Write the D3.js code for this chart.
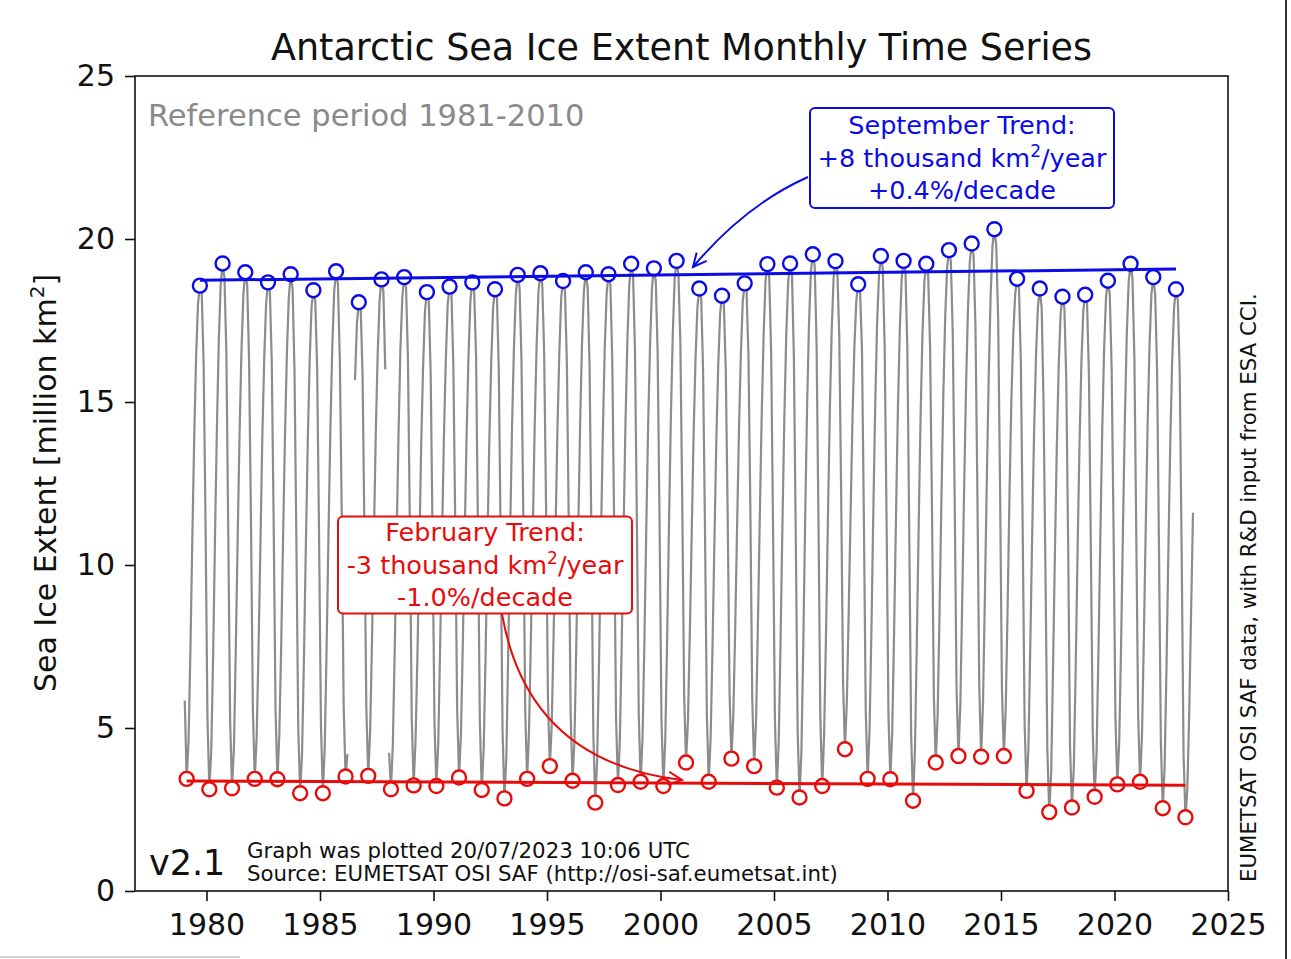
<!DOCTYPE html>
<html>
<head>
<meta charset="utf-8">
<script src="https://cdn.jsdelivr.net/npm/d3@7"></script>
<style>
  html, body { margin: 0; padding: 0; background: #fff; }
  svg { display: block; }
  text { font-family: "DejaVu Sans", sans-serif; }
</style>
</head>
<body>
<svg id="chart" width="1291" height="959"></svg>
<script>
// Monthly Antarctic sea ice extent (million km²), one row per year, Jan..Dec.
// null marks months without data.
const years = d3.range(1979, 2024);
const monthlyExtent = [
  [5.84, 3.44, 4.6, 7.4, 10.8, 13.9, 16.4, 18.0, 18.57, 18.3, 16.1, 11.2], // 1979
  [5.3, 3.12, 4.3, 7.2, 10.9, 14.2, 16.9, 18.6, 19.25, 18.8, 16.5, 11.0],  // 1980
  [5.2, 3.15, 4.4, 7.5, 10.9, 14.1, 16.6, 18.3, 18.98, 18.6, 16.3, 11.4],  // 1981
  [5.6, 3.44, 4.7, 7.4, 10.6, 13.9, 16.3, 18.0, 18.67, 18.4, 16.2, 11.3],  // 1982
  [5.5, 3.43, 4.8, 7.6, 10.9, 14.0, 16.5, 18.2, 18.92, 18.5, 16.0, 10.8],  // 1983
  [5.0, 3.00, 4.2, 7.1, 10.5, 13.7, 16.2, 17.9, 18.43, 18.1, 16.0, 10.9],  // 1984
  [5.1, 3.00, 4.4, 7.5, 11.0, 14.2, 16.7, 18.4, 19.01, 18.6, 16.2, 11.5],  // 1985
  [5.7, 3.51, 4.2, null, null, null, 15.67, 17.4, 18.06, 17.9, 15.8, 11.0], // 1986
  [5.6, 3.53, 4.9, 7.7, 10.9, 14.1, 16.5, 18.1, 18.76, 18.4, 16.0, null],  // 1987
  [4.24, 3.12, 4.5, 7.4, 10.8, 14.0, 16.6, 18.2, 18.83, 18.5, 16.3, 11.2], // 1988
  [5.3, 3.24, 4.6, 7.2, 10.5, 13.7, 16.1, 17.8, 18.37, 18.1, 15.9, 10.9],  // 1989
  [5.2, 3.22, 4.5, 7.5, 10.8, 13.9, 16.3, 18.0, 18.54, 18.3, 16.1, 11.2],  // 1990
  [5.6, 3.48, 4.8, 7.6, 10.9, 14.0, 16.4, 18.1, 18.67, 18.4, 16.4, 11.1],  // 1991
  [5.2, 3.10, 4.3, 7.1, 10.6, 13.8, 16.2, 17.9, 18.46, 18.3, 16.0, 10.8],  // 1992
  [4.9, 2.84, 4.1, 7.3, 10.9, 14.2, 16.6, 18.3, 18.90, 18.5, 16.3, 11.4],  // 1993
  [5.5, 3.44, 4.9, 7.8, 11.1, 14.3, 16.7, 18.4, 18.95, 18.6, 16.5, 11.8],  // 1994
  [5.9, 3.83, 5.1, 7.9, 11.0, 14.1, 16.5, 18.2, 18.71, 18.4, 16.2, 11.3],  // 1995
  [5.4, 3.38, 4.6, 7.6, 11.0, 14.3, 16.8, 18.4, 18.98, 18.5, 16.1, 10.8],  // 1996
  [4.8, 2.71, 4.0, 7.0, 10.7, 14.0, 16.6, 18.3, 18.92, 18.6, 16.3, 11.2],  // 1997
  [5.3, 3.25, 4.6, 7.6, 11.1, 14.4, 16.9, 18.6, 19.24, 18.9, 16.6, 11.4],  // 1998
  [5.4, 3.35, 4.7, 7.7, 11.2, 14.4, 16.8, 18.5, 19.10, 18.7, 16.5, 11.3],  // 1999
  [5.3, 3.22, 4.6, 7.7, 11.3, 14.6, 17.1, 18.8, 19.33, 18.9, 16.8, 11.9],  // 2000
  [6.0, 3.94, 5.2, 7.9, 11.0, 14.0, 16.3, 17.9, 18.48, 18.2, 16.0, 11.2],  // 2001
  [5.4, 3.35, 4.7, 7.5, 10.7, 13.8, 16.1, 17.7, 18.26, 18.0, 16.0, 11.6],  // 2002
  [6.1, 4.06, 5.4, 8.1, 11.2, 14.2, 16.5, 18.1, 18.64, 18.4, 16.4, 11.7],  // 2003
  [5.9, 3.83, 5.2, 8.2, 11.5, 14.6, 17.0, 18.7, 19.23, 18.8, 16.5, 11.1],  // 2004
  [5.2, 3.17, 4.6, 7.8, 11.4, 14.6, 17.1, 18.7, 19.25, 18.9, 16.4, 10.9],  // 2005
  [4.9, 2.87, 4.3, 7.6, 11.5, 14.9, 17.4, 19.0, 19.53, 19.2, 16.8, 11.4],  // 2006
  [5.3, 3.22, 4.8, 7.9, 11.4, 14.7, 17.2, 18.8, 19.32, 19.0, 17.0, 12.2],  // 2007
  [6.4, 4.35, 5.8, 8.6, 11.6, 14.5, 16.7, 18.1, 18.61, 18.4, 16.6, 11.5],  // 2008
  [5.5, 3.44, 4.9, 8.0, 11.6, 14.9, 17.4, 18.9, 19.48, 19.1, 16.7, 11.4],  // 2009
  [5.4, 3.43, 4.9, 8.0, 11.5, 14.8, 17.2, 18.8, 19.33, 19.0, 16.6, 11.0],  // 2010
  [4.8, 2.77, 4.3, 7.6, 11.3, 14.6, 17.1, 18.7, 19.24, 18.9, 16.7, 11.8],  // 2011
  [6.0, 3.94, 5.4, 8.5, 12.0, 15.2, 17.6, 19.1, 19.66, 19.3, 17.1, 12.1],  // 2012
  [6.2, 4.14, 5.7, 8.9, 12.3, 15.4, 17.8, 19.3, 19.86, 19.5, 17.3, 12.3],  // 2013
  [6.3, 4.12, 5.8, 9.1, 12.6, 15.8, 18.2, 19.8, 20.30, 19.8, 17.5, 12.4],  // 2014
  [6.2, 4.14, 5.6, 8.7, 12.2, 15.1, 17.1, 18.3, 18.78, 18.5, 16.2, 10.9],  // 2015
  [5.1, 3.07, 4.4, 7.6, 11.0, 14.1, 16.4, 17.9, 18.48, 17.9, 14.9, 9.8],   // 2016
  [4.3, 2.42, 3.6, 6.8, 10.4, 13.6, 16.1, 17.7, 18.23, 17.9, 15.7, 10.6],  // 2017
  [4.4, 2.56, 3.8, 6.9, 10.5, 13.7, 16.2, 17.8, 18.29, 18.0, 15.8, 10.5],  // 2018
  [4.9, 2.89, 4.2, 7.3, 10.8, 14.1, 16.6, 18.2, 18.72, 18.3, 16.0, 11.1],  // 2019
  [5.3, 3.27, 4.6, 7.6, 11.2, 14.5, 17.1, 18.7, 19.24, 18.8, 16.4, 11.0],  // 2020
  [5.4, 3.35, 4.7, 7.7, 11.1, 14.3, 16.7, 18.3, 18.83, 18.3, 16.0, 10.6],  // 2021
  [4.6, 2.54, 3.8, 6.9, 10.5, 13.8, 16.3, 17.9, 18.46, 18.1, 15.8, 10.4],  // 2022
  [4.2, 2.26, 3.1, 5.5, 8.6, 11.6]                                           // 2023
];

// Trend slopes (million km² per year) quoted in the annotations
const septTrendPerYear = 0.008;
const febTrendPerYear = -0.003;

const xTicks = [1980, 1985, 1990, 1995, 2000, 2005, 2010, 2015, 2020, 2025];
const yTicks = [0, 5, 10, 15, 20, 25];

const septLabel = ["September Trend:", "+8 thousand km", "/year", "+0.4%/decade"];
const febLabel = ["February Trend:", "-3 thousand km", "/year", "-1.0%/decade"];

// ---- layout ----
const svg = d3.select("#chart");
const plotL = 135, plotR = 1228, plotT = 76, plotB = 891;
const x = d3.scaleLinear().domain([1976.85, 2025]).range([plotL, plotR]);
const y = d3.scaleLinear().domain([0, 25]).range([plotB, plotT]);

const BLUE = "#0b0be6", RED = "#e60c0c", GREY = "#8c8c8c";

// flatten monthly series: each month plotted at its mid point
const series = [];
monthlyExtent.forEach((row, i) => {
  row.forEach((v, m) => series.push({ t: years[i] + (m + 0.5) / 12, v, m }));
});
const feb = series.filter(d => d.m === 1 && d.v != null);
const sep = series.filter(d => d.m === 8 && d.v != null);

// title
svg.append("text").attr("x", (plotL + plotR) / 2).attr("y", 60)
  .attr("text-anchor", "middle").attr("font-size", 36.5).attr("fill", "#111")
  .text("Antarctic Sea Ice Extent Monthly Time Series");

// monthly line
const line = d3.line().defined(d => d.v != null).x(d => x(d.t)).y(d => y(d.v));
svg.append("path").datum(series).attr("d", line)
  .attr("fill", "none").attr("stroke", GREY).attr("stroke-width", 2.2);

// trend line through the mean point with the quoted slope
function trend(pts, slope) {
  const mt = d3.mean(pts, d => d.t), mv = d3.mean(pts, d => d.v);
  const t0 = pts[0].t, t1 = pts[pts.length - 1].t;
  return [{ t: t0, v: mv + slope * (t0 - mt) }, { t: t1, v: mv + slope * (t1 - mt) }];
}

// extreme-month markers
function markers(pts, color) {
  svg.append("g").selectAll("circle").data(pts).join("circle")
    .attr("cx", d => x(d.t)).attr("cy", d => y(d.v)).attr("r", 7)
    .attr("fill", "#fff").attr("stroke", color).attr("stroke-width", 2.4);
}
markers(sep, BLUE);
markers(feb, RED);

const tl = d3.line().x(d => x(d.t)).y(d => y(d.v));
svg.append("path").datum(trend(sep, septTrendPerYear)).attr("d", tl)
  .attr("stroke", BLUE).attr("stroke-width", 3).attr("fill", "none");
svg.append("path").datum(trend(feb, febTrendPerYear)).attr("d", tl)
  .attr("stroke", RED).attr("stroke-width", 3).attr("fill", "none");

// frame
svg.append("rect").attr("x", plotL).attr("y", plotT)
  .attr("width", plotR - plotL).attr("height", plotB - plotT)
  .attr("fill", "none").attr("stroke", "#111").attr("stroke-width", 1.6);

// axes
const xAxis = svg.append("g").attr("transform", `translate(0,${plotB})`)
  .call(d3.axisBottom(x).tickValues(xTicks).tickFormat(d3.format("d")).tickSize(10).tickPadding(13));
const yAxis = svg.append("g").attr("transform", `translate(${plotL},0)`)
  .call(d3.axisLeft(y).tickValues(yTicks).tickSize(10).tickPadding(10));
[xAxis, yAxis].forEach(g => {
  g.select(".domain").remove();
  g.selectAll("line").attr("stroke", "#111").attr("stroke-width", 1.6);
  g.selectAll("text").attr("font-size", 30).attr("fill", "#111")
    .attr("font-family", "DejaVu Sans, sans-serif");
});

// y label with superscript
const yl = svg.append("text").attr("transform", "translate(56,483) rotate(-90)")
  .attr("text-anchor", "middle").attr("font-size", 30).attr("fill", "#111");
yl.append("tspan").text("Sea Ice Extent [million km");
yl.append("tspan").attr("baseline-shift", "super").attr("font-size", 20).text("2");
yl.append("tspan").text("]");

// reference period
svg.append("text").attr("x", 148).attr("y", 126).attr("font-size", 30.5)
  .attr("fill", "#8a8a8a").text("Reference period 1981-2010");

// annotation boxes
function box(cx, cy, w, h, lines, color) {
  svg.append("rect").attr("x", cx - w / 2).attr("y", cy - h / 2).attr("width", w).attr("height", h)
    .attr("rx", 5).attr("fill", "#fff").attr("stroke", color).attr("stroke-width", 2);
  const ys = [cy - 24, cy + 8.5, cy + 41];
  svg.append("text").attr("x", cx).attr("y", ys[0]).attr("text-anchor", "middle")
    .attr("font-size", 25.5).attr("fill", color).text(lines[0]);
  const t = svg.append("text").attr("x", cx).attr("y", ys[1]).attr("text-anchor", "middle")
    .attr("font-size", 25.5).attr("fill", color);
  t.append("tspan").text(lines[1]);
  t.append("tspan").attr("baseline-shift", "super").attr("font-size", 17).text("2");
  t.append("tspan").text(lines[2]);
  svg.append("text").attr("x", cx).attr("y", ys[2]).attr("text-anchor", "middle")
    .attr("font-size", 25.5).attr("fill", color).text(lines[3]);
}

// curved arrows with open heads
function arrow(p0, c, p1, color) {
  svg.append("path").attr("d", `M${p0[0]},${p0[1]} Q${c[0]},${c[1]} ${p1[0]},${p1[1]}`)
    .attr("fill", "none").attr("stroke", color).attr("stroke-width", 2);
  const ang = Math.atan2(p1[1] - c[1], p1[0] - c[0]);
  const L = 15, a = 0.45;
  const h1 = [p1[0] - L * Math.cos(ang - a), p1[1] - L * Math.sin(ang - a)];
  const h2 = [p1[0] - L * Math.cos(ang + a), p1[1] - L * Math.sin(ang + a)];
  svg.append("path").attr("d", `M${h1[0]},${h1[1]} L${p1[0]},${p1[1]} L${h2[0]},${h2[1]}`)
    .attr("fill", "none").attr("stroke", color).attr("stroke-width", 2);
}

arrow([808, 177], [745, 205], [693, 267], BLUE);
arrow([502, 614], [528, 762], [682, 780], RED);
box(962, 158, 304, 100, septLabel, BLUE);
box(485, 565, 294, 97, febLabel, RED);

// footer notes
svg.append("text").attr("x", 149).attr("y", 875).attr("font-size", 35).attr("fill", "#111").text("v2.1");
svg.append("text").attr("x", 247).attr("y", 858).attr("font-size", 21.3).attr("fill", "#111")
  .text("Graph was plotted 20/07/2023 10:06 UTC");
svg.append("text").attr("x", 247).attr("y", 881).attr("font-size", 21.3).attr("fill", "#111")
  .text("Source: EUMETSAT OSI SAF (http://osi-saf.eumetsat.int)");

// data credit along the right edge
svg.append("text").attr("transform", "translate(1256,882) rotate(-90)")
  .attr("font-size", 21.3).attr("fill", "#111")
  .text("EUMETSAT OSI SAF data, with R&D input from ESA CCI.");

// outer border strokes
svg.append("line").attr("x1", 1286).attr("x2", 1286).attr("y1", 0).attr("y2", 959)
  .attr("stroke", "#333").attr("stroke-width", 2);
svg.append("line").attr("x1", 0).attr("x2", 240).attr("y1", 957).attr("y2", 957)
  .attr("stroke", "#d0d0d0").attr("stroke-width", 2);
</script>
</body>
</html>
